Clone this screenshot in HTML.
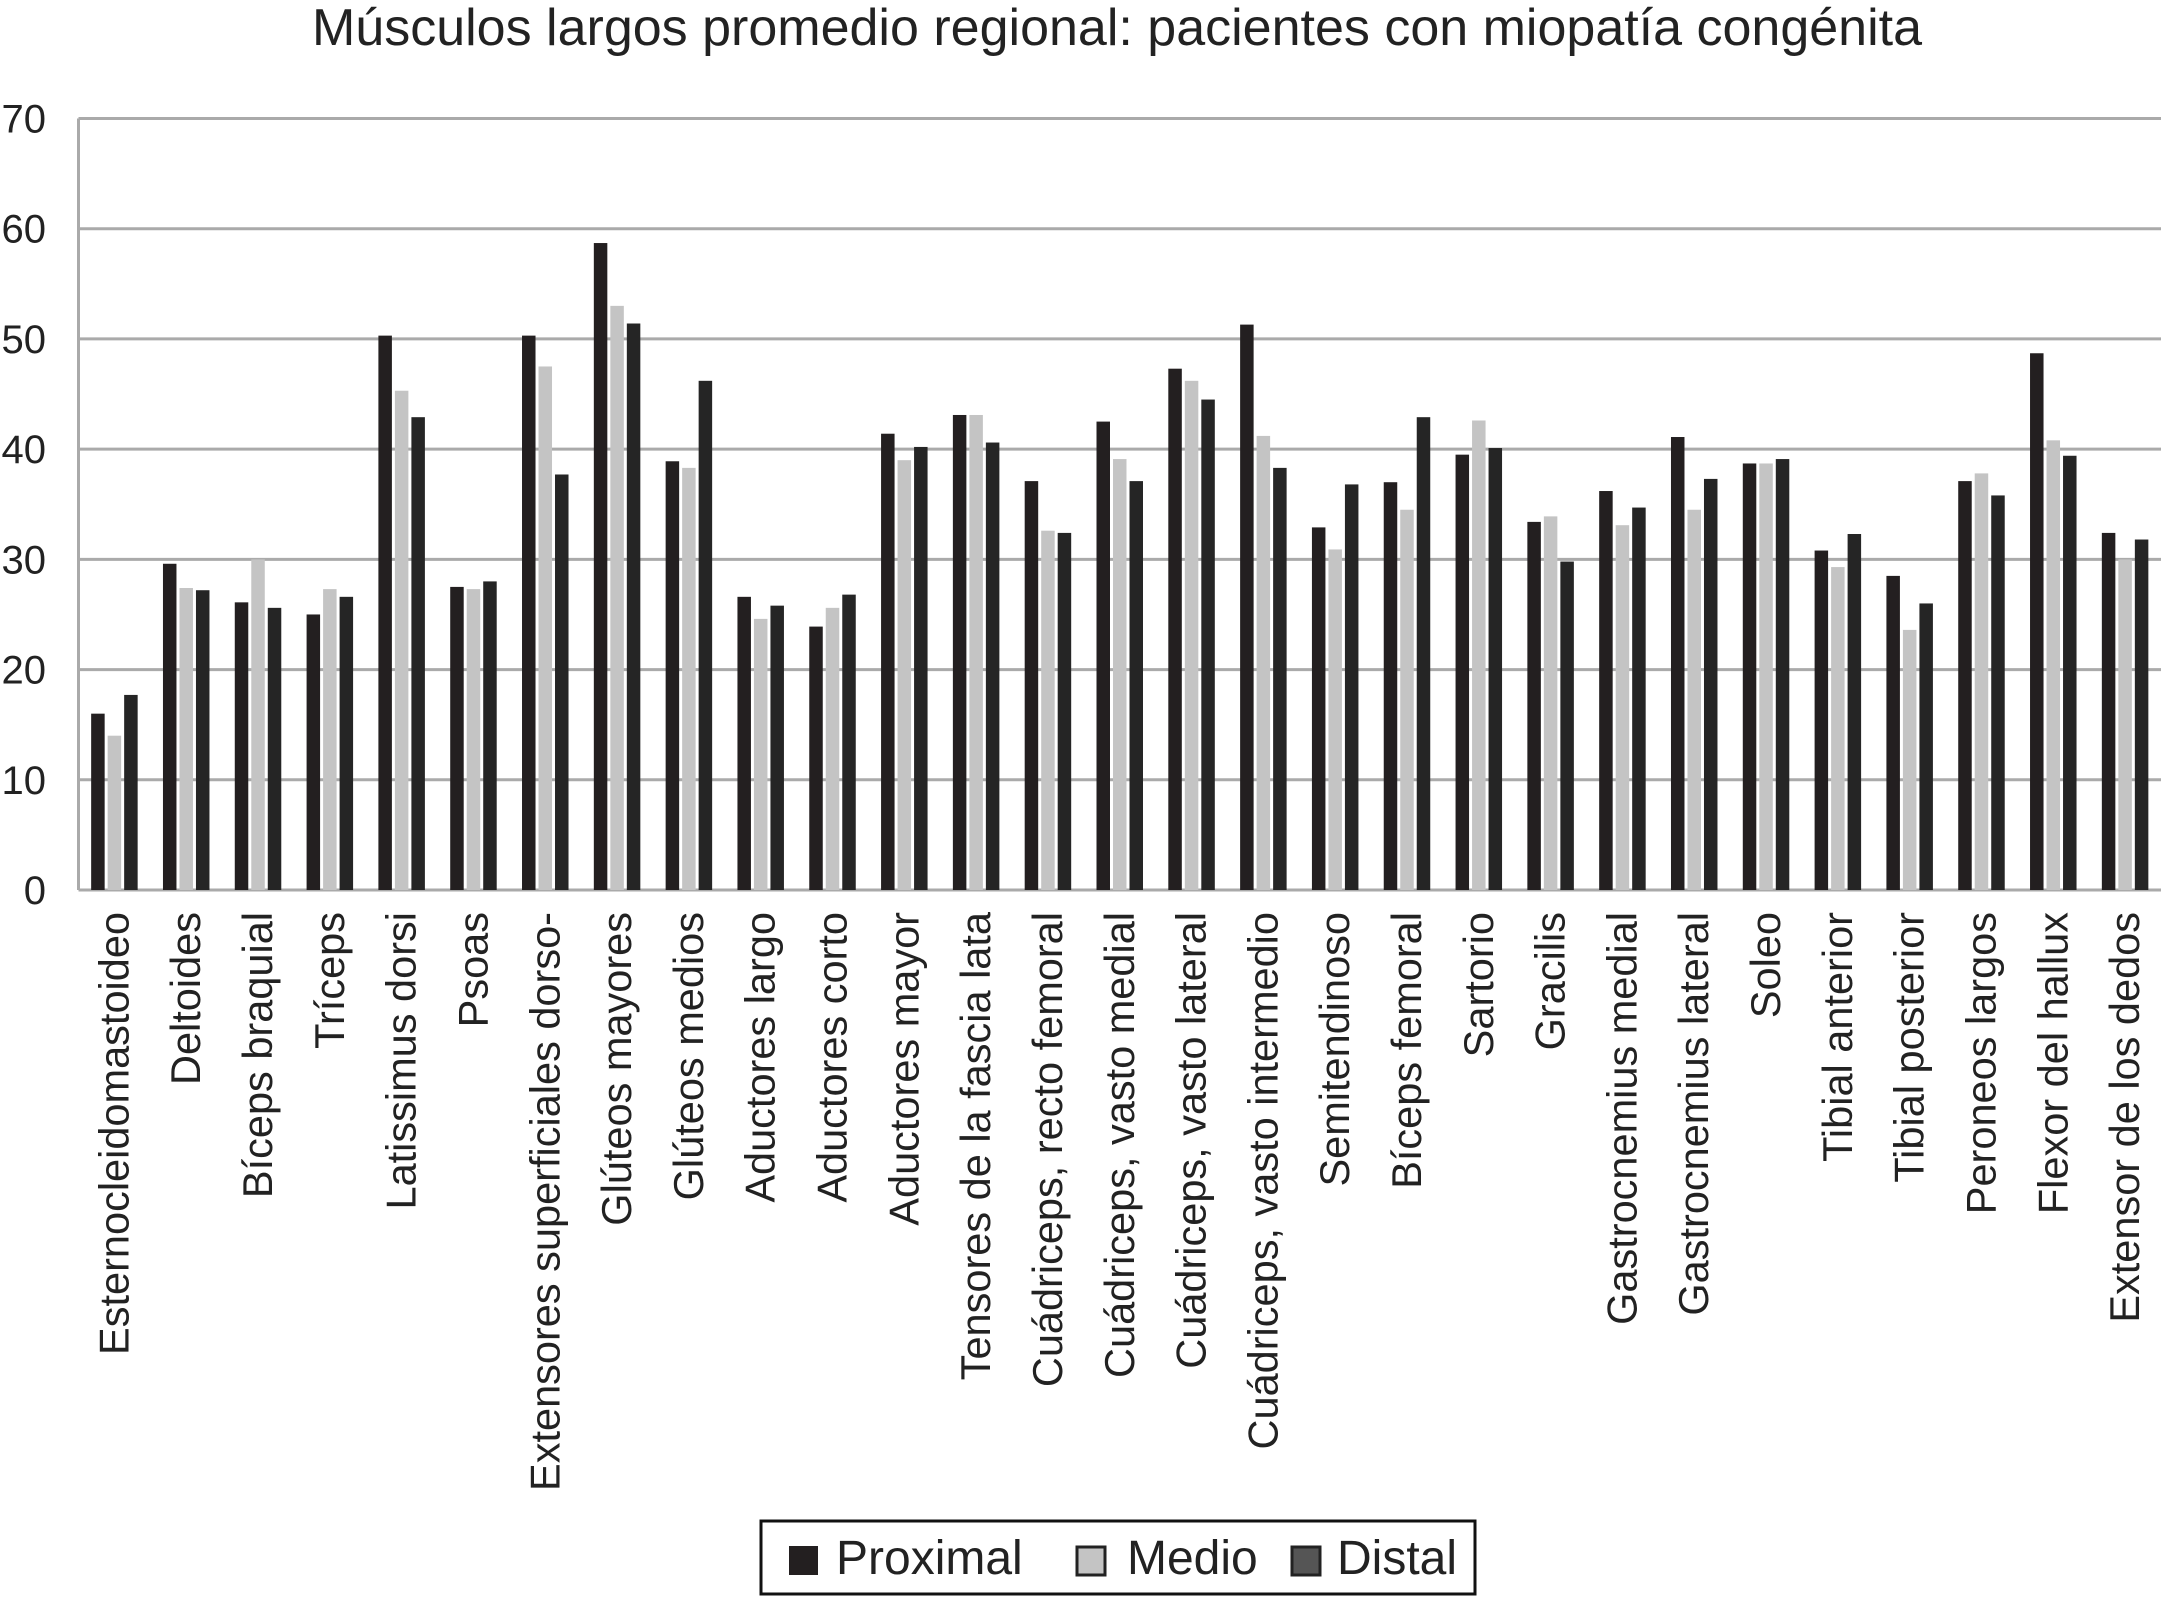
<!DOCTYPE html>
<html><head><meta charset="utf-8"><style>
html,body{margin:0;padding:0;background:#fff;}
svg{display:block;font-family:"Liberation Sans",sans-serif;}
</style></head><body>
<svg id="chart" width="2161" height="1597" viewBox="0 0 2161 1597">
<text x="1117" y="45" font-size="52" text-anchor="middle" fill="#222">Músculos largos promedio regional: pacientes con miopatía congénita</text>
<g id="grid"></g>
<g id="bars"></g>
<g id="xlabels"></g>
<g id="ylabels"></g>
<g>
<rect x="761" y="1521" width="714" height="73" fill="#fff" stroke="#111" stroke-width="3"/>
<rect x="789" y="1546" width="29" height="29" fill="#231f20"/>
<text x="836" y="1574" font-size="48" fill="#222">Proximal</text>
<rect x="1077" y="1547" width="28" height="28" fill="#c4c4c4" stroke="#222" stroke-width="3"/>
<text x="1127" y="1574" font-size="48" fill="#222">Medio</text>
<rect x="1292" y="1547" width="28" height="28" fill="#555" stroke="#222" stroke-width="3"/>
<text x="1337" y="1574" font-size="48" fill="#222">Distal</text>
</g>
</svg>
<script>
const categories = ["Esternocleidomastoideo","Deltoides","Bíceps braquial","Tríceps","Latissimus dorsi","Psoas","Extensores superficiales dorso-","Glúteos mayores","Glúteos medios","Aductores largo","Aductores corto","Aductores mayor","Tensores de la fascia lata","Cuádriceps, recto femoral","Cuádriceps, vasto medial","Cuádriceps, vasto lateral","Cuádriceps, vasto intermedio","Semitendinoso","Bíceps femoral","Sartorio","Gracilis","Gastrocnemius medial","Gastrocnemius lateral","Soleo","Tibial anterior","Tibial posterior","Peroneos largos","Flexor del hallux","Extensor de los dedos"];
const proximal = [16,29.6,26.1,25,50.3,27.5,50.3,58.7,38.9,26.6,23.9,41.4,43.1,37.1,42.5,47.3,51.3,32.9,37,39.5,33.4,36.2,41.1,38.7,30.8,28.5,37.1,48.7,32.4];
const medio = [14,27.4,30,27.3,45.3,27.3,47.5,53,38.3,24.6,25.6,39,43.1,32.6,39.1,46.2,41.2,30.9,34.5,42.6,33.9,33.1,34.5,38.7,29.3,23.6,37.8,40.8,30];
const distal = [17.7,27.2,25.6,26.6,42.9,28,37.7,51.4,46.2,25.8,26.8,40.2,40.6,32.4,37.1,44.5,38.3,36.8,42.9,40.1,29.8,34.7,37.3,39.1,32.3,26,35.8,39.4,31.8];
const yTicks = [0,10,20,30,40,50,60,70];

const NS="http://www.w3.org/2000/svg";
const L=78.5,R=2161,T=118.5,B=890,YMAX=70;
const y=v=>B-(v/YMAX)*(B-T);
const bw=(R-L)/categories.length;
const xc=i=>L+bw*(i+0.5);
function mk(t,a,p){const e=document.createElementNS(NS,t);for(const k in a)e.setAttribute(k,a[k]);p.appendChild(e);return e;}
const grid=document.getElementById('grid'),bars=document.getElementById('bars'),xl=document.getElementById('xlabels'),yl=document.getElementById('ylabels');
yTicks.forEach(v=>{
  const ln=mk('line',{x1:L,x2:R,y1:y(v),y2:y(v),stroke:'#aaa','stroke-width':3},grid);
  
  
  const t=mk('text',{x:46,y:y(v)+14,'font-size':40,'text-anchor':'end',fill:'#222'},yl);
  
  
  t.textContent=v;
});
const ax=mk('line',{x1:L,x2:L,y1:T,y2:B,stroke:'#aaa','stroke-width':3},grid);


const series=[[proximal,'#231f20'],[medio,'#c4c4c4'],[distal,'#252525']];
const W=13.5,S=16.5;
categories.forEach((c,i)=>{
  series.forEach((s,j)=>{
    const v=s[0][i];
    const x=xc(i)+(j-1)*S-W/2;
    const r=mk('rect',{x:x,y:y(v),width:W,height:B-y(v),fill:s[1]},bars);
    
    
  });
  const t=mk('text',{transform:`translate(${xc(i)+14},912) rotate(-90)`,'font-size':41.5,'text-anchor':'end',fill:'#222'},xl);
  
  
  t.textContent=c;
});
</script>
</body></html>
